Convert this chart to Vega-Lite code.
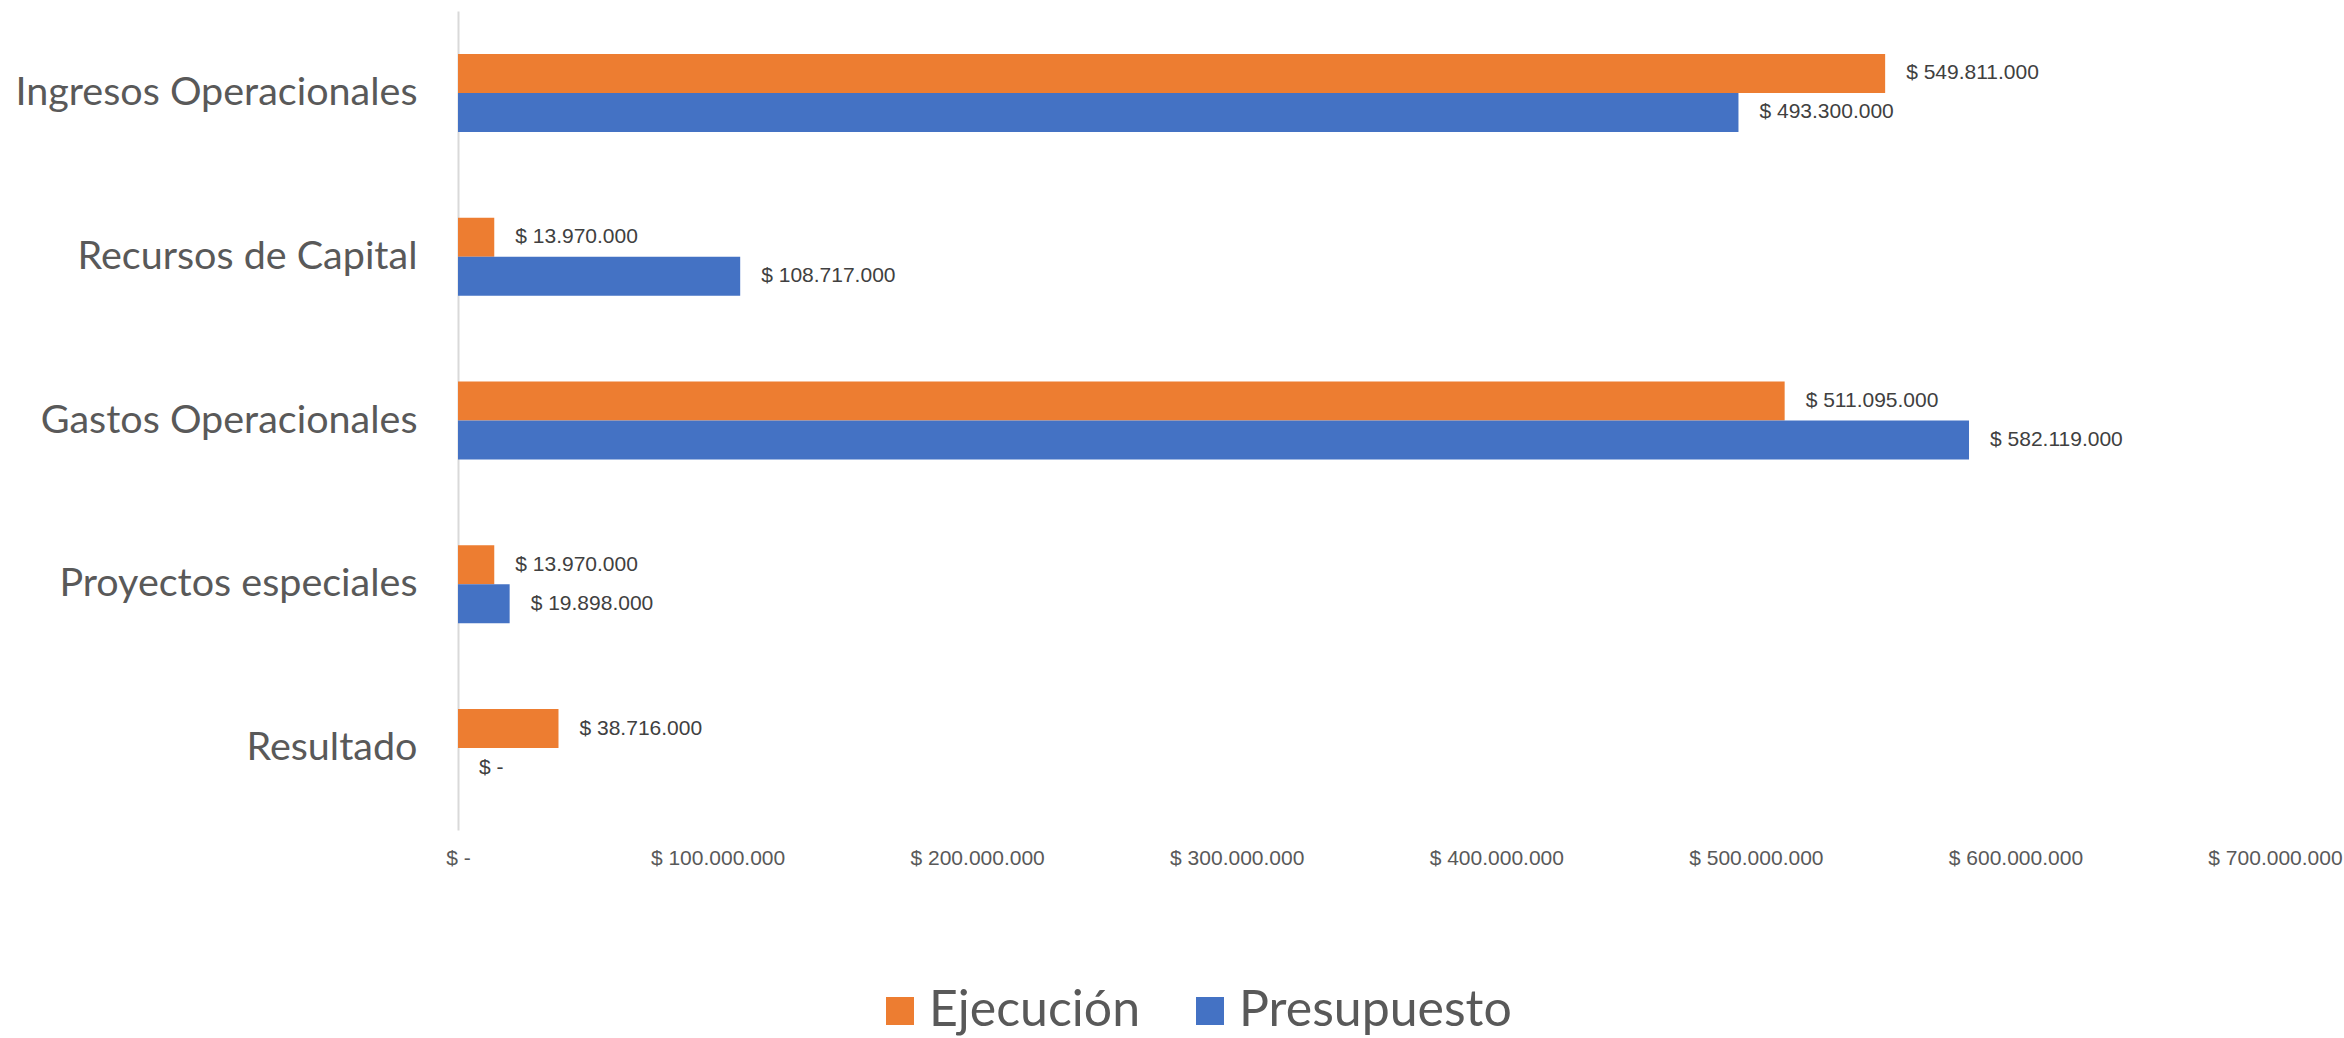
{
  "$schema": "https://vega.github.io/schema/vega-lite/v6.json",
  "width": 1817,
  "height": 819,
  "autosize": {"type": "none"},
  "padding": {"left": 458, "top": 11, "right": 69, "bottom": 208},
  "background": "white",
  "config": {
    "locale": {"number": {"decimal": ",", "thousands": ".", "grouping": [3], "currency": ["$ ", ""]}},
    "view": {"stroke": null},
    "font": "Liberation Sans"
  },
  "data": {
    "values": [
      {"categoria": "Ingresos Operacionales", "serie": "Ejecución", "valor": 549811000},
      {"categoria": "Ingresos Operacionales", "serie": "Presupuesto", "valor": 493300000},
      {"categoria": "Recursos de Capital", "serie": "Ejecución", "valor": 13970000},
      {"categoria": "Recursos de Capital", "serie": "Presupuesto", "valor": 108717000},
      {"categoria": "Gastos Operacionales", "serie": "Ejecución", "valor": 511095000},
      {"categoria": "Gastos Operacionales", "serie": "Presupuesto", "valor": 582119000},
      {"categoria": "Proyectos especiales", "serie": "Ejecución", "valor": 13970000},
      {"categoria": "Proyectos especiales", "serie": "Presupuesto", "valor": 19898000},
      {"categoria": "Resultado", "serie": "Ejecución", "valor": 38716000},
      {"categoria": "Resultado", "serie": "Presupuesto", "valor": 0}
    ]
  },
  "transform": [
    {"calculate": "datum.valor == 0 ? '$ -' : format(datum.valor, '$,.0f')", "as": "etiqueta"}
  ],
  "encoding": {
    "y": {
      "field": "categoria",
      "type": "nominal",
      "sort": ["Ingresos Operacionales", "Recursos de Capital", "Gastos Operacionales", "Proyectos especiales", "Resultado"],
      "scale": {"paddingInner": 0.524, "paddingOuter": 0.262},
      "axis": {
        "title": null,
        "domain": true,
        "domainColor": "#D9D9D9",
        "domainWidth": 2,
        "ticks": false,
        "grid": false,
        "labelFont": "Lato",
        "labelFontSize": 39.5,
        "labelColor": "#595959",
        "labelPadding": 41,
        "labelLimit": 0
      }
    },
    "yOffset": {"field": "serie", "type": "nominal", "sort": ["Ejecución", "Presupuesto"]},
    "x": {
      "field": "valor",
      "type": "quantitative",
      "scale": {"domain": [0, 700000000], "nice": false},
      "axis": {
        "title": null,
        "domain": false,
        "ticks": false,
        "grid": false,
        "values": [0, 100000000, 200000000, 300000000, 400000000, 500000000, 600000000, 700000000],
        "labelExpr": "datum.value == 0 ? '$ -' : format(datum.value, '$,.0f')",
        "labelFontSize": 21,
        "labelColor": "#595959",
        "labelPadding": 17,
        "labelFlush": false,
        "labelOverlap": false
      }
    }
  },
  "layer": [
    {
      "mark": {"type": "bar"},
      "encoding": {
        "color": {
          "field": "serie",
          "type": "nominal",
          "scale": {"domain": ["Ejecución", "Presupuesto"], "range": ["#ED7D31", "#4472C4"]},
          "legend": {
            "orient": "none",
            "legendX": 417,
            "legendY": 975,
            "direction": "horizontal",
            "title": null,
            "labelFont": "Lato",
            "labelFontSize": 50,
            "labelColor": "#595959",
            "symbolType": "square",
            "symbolSize": 784,
            "symbolStrokeWidth": 0,
            "labelOffset": 4,
            "columnPadding": 44,
            "labelLimit": 0
          }
        }
      }
    },
    {
      "mark": {"type": "text", "align": "left", "baseline": "middle", "dx": 21, "fontSize": 21, "color": "#404040"},
      "encoding": {"text": {"field": "etiqueta"}}
    }
  ]
}
